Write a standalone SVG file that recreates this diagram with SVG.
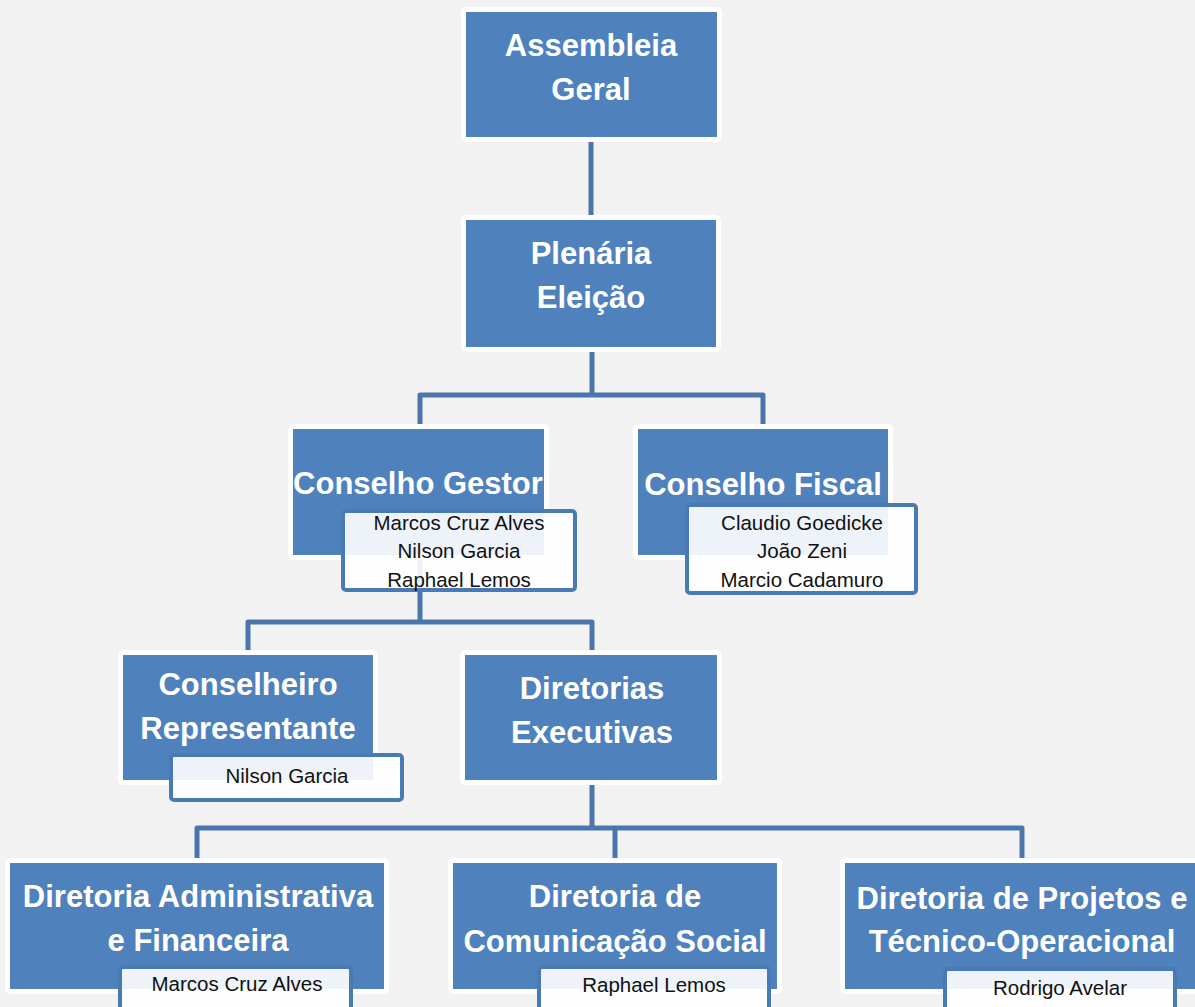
<svg xmlns="http://www.w3.org/2000/svg" width="1195" height="1007" viewBox="0 0 1195 1007">
<style>
.box{fill:#4F81BD;stroke:#FFFFFF;stroke-width:5}
.name{fill:#FFFFFF;fill-opacity:0.9;stroke:#4A7AB5;stroke-width:4}
.t{font-family:"Liberation Sans",Arial,sans-serif;font-weight:bold;font-size:31px;fill:#FFFFFF;text-anchor:middle}
.n{font-family:"Liberation Sans",Arial,sans-serif;font-size:20.5px;fill:#111111;text-anchor:middle}
.c{fill:none;stroke:#4A76AC;stroke-width:5;stroke-linejoin:round}
</style>
<rect x="0" y="0" width="1195" height="1007" fill="#F2F2F2"/>
<g id="connectors">
<path class="c" d="M591 142 V215"/>
<path class="c" d="M592 352 V395 M420 424 V395 H763 V424"/>
<path class="c" d="M420 556 V622 M248 650 V622 H592 V650"/>
<path class="c" d="M592 785 V828 M197 858 V828 H1022 V858 M615 828 V858"/>
</g>
<g id="assembleia">
<rect class="box" x="463.5" y="9.5" width="256" height="130" rx="3"/>
<text class="t" x="591" y="56">Assembleia</text>
<text class="t" x="591" y="100">Geral</text>
</g>
<g id="plenaria">
<rect class="box" x="463.5" y="217.5" width="255" height="132" rx="3"/>
<text class="t" x="591" y="264">Plenária</text>
<text class="t" x="591" y="308">Eleição</text>
</g>
<g id="conselho-gestor">
<rect class="box" x="290.5" y="426.5" width="256" height="131" rx="3"/>
<text class="t" x="418" y="494">Conselho Gestor</text>
<rect class="name" x="343" y="511" width="232" height="79" rx="3"/>
<text class="n" x="459" y="530">Marcos Cruz Alves</text>
<text class="n" x="459" y="558">Nilson Garcia</text>
<text class="n" x="459" y="587">Raphael Lemos</text>
</g>
<g id="conselho-fiscal">
<rect class="box" x="635.5" y="426.5" width="255" height="131" rx="3"/>
<text class="t" x="763" y="495">Conselho Fiscal</text>
<rect class="name" x="687" y="505" width="229" height="88" rx="3"/>
<text class="n" x="802" y="530">Claudio Goedicke</text>
<text class="n" x="802" y="558">João Zeni</text>
<text class="n" x="802" y="587">Marcio Cadamuro</text>
</g>
<g id="conselheiro-representante">
<rect class="box" x="120.5" y="652.5" width="255" height="130" rx="3"/>
<text class="t" x="248" y="695">Conselheiro</text>
<text class="t" x="248" y="739">Representante</text>
<rect class="name" x="171" y="755" width="231" height="45" rx="3"/>
<text class="n" x="287" y="783">Nilson Garcia</text>
</g>
<g id="diretorias-executivas">
<rect class="box" x="462.5" y="652.5" width="257" height="130" rx="3"/>
<text class="t" x="592" y="699">Diretorias</text>
<text class="t" x="592" y="743">Executivas</text>
</g>
<g id="diretoria-administrativa">
<rect class="box" x="7.5" y="860.5" width="379" height="131" rx="3"/>
<text class="t" x="198" y="907">Diretoria Administrativa</text>
<text class="t" x="198" y="951">e Financeira</text>
<rect class="name" x="120" y="967" width="231" height="50" rx="3"/>
<text class="n" x="237" y="991">Marcos Cruz Alves</text>
</g>
<g id="diretoria-comunicacao">
<rect class="box" x="450.5" y="860.5" width="329" height="131" rx="3"/>
<text class="t" x="615" y="907">Diretoria de</text>
<text class="t" x="615" y="952">Comunicação Social</text>
<rect class="name" x="539" y="967" width="230" height="50" rx="3"/>
<text class="n" x="654" y="992">Raphael Lemos</text>
</g>
<g id="diretoria-projetos">
<rect class="box" x="842.5" y="860.5" width="360" height="131" rx="3"/>
<text class="t" x="1022" y="909">Diretoria de Projetos e</text>
<text class="t" x="1022" y="952">Técnico-Operacional</text>
<rect class="name" x="945" y="969" width="230" height="50" rx="3"/>
<text class="n" x="1060" y="995">Rodrigo Avelar</text>
</g>
</svg>
